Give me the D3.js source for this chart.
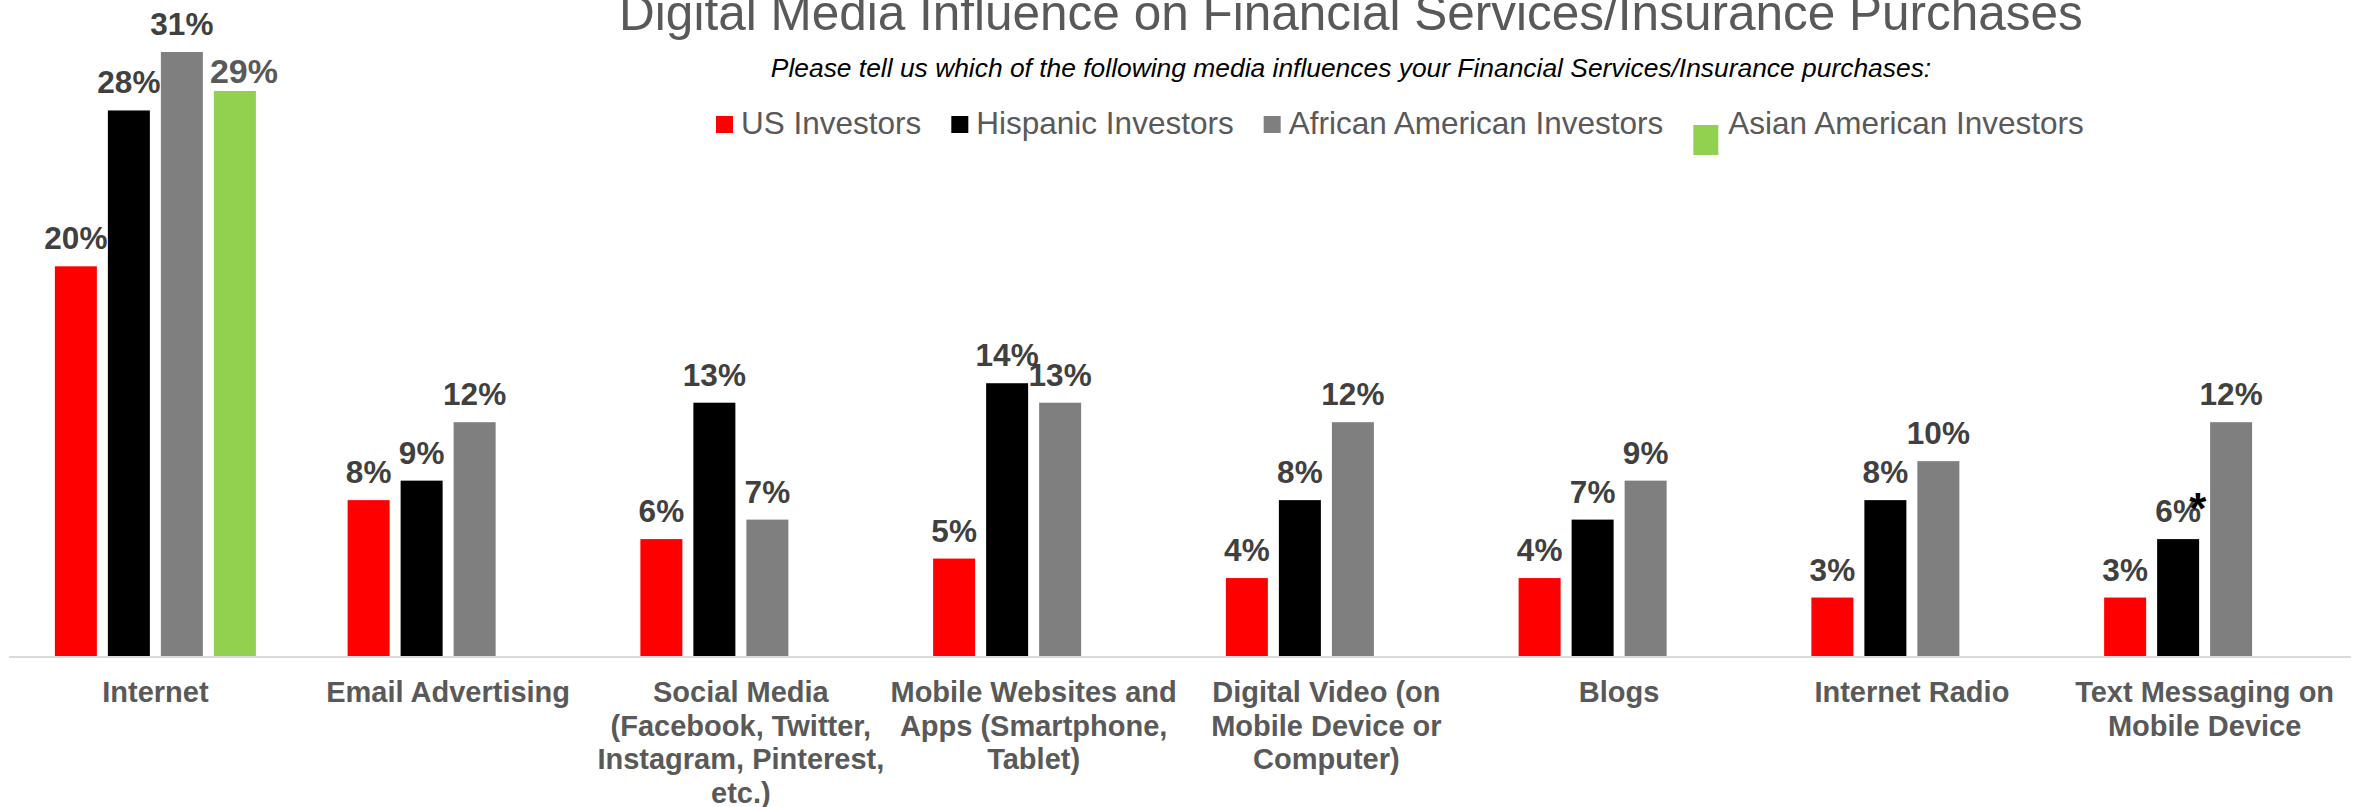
<!DOCTYPE html>
<html>
<head>
<meta charset="utf-8">
<script src="https://cdn.jsdelivr.net/npm/d3@7"></script>
<style>
  html, body { margin: 0; padding: 0; background: #ffffff; }
  svg { display: block; font-family: "Liberation Sans", Arial, sans-serif; }
</style>
</head>
<body>
<svg id="chart" width="2361" height="807"></svg>
<script>
// Media categories (line breaks as they wrap under the axis)
const categories = [
  "Internet",
  "Email Advertising",
  "Social Media\n(Facebook, Twitter,\nInstagram, Pinterest,\netc.)",
  "Mobile Websites and\nApps (Smartphone,\nTablet)",
  "Digital Video (on\nMobile Device or\nComputer)",
  "Blogs",
  "Internet Radio",
  "Text Messaging on\nMobile Device"
];

const seriesNames = ["US Investors", "Hispanic Investors", "African American Investors", "Asian American Investors"];
const seriesColors = ["#ff0000", "#000000", "#7f7f7f", "#92d050"];

// Share of respondents influenced (%) — Asian American only asked about Internet
const usInvestors       = [20, 8, 6, 5, 4, 4, 3, 3];
const hispanicInvestors = [28, 9, 13, 14, 8, 7, 8, 6];
const africanAmerican   = [31, 12, 7, 13, 12, 9, 10, 12];
const asianAmerican     = [29, null, null, null, null, null, null, null];

const seriesValues = [usInvestors, hispanicInvestors, africanAmerican, asianAmerican];

const titleText = "Digital Media Influence on Financial Services/Insurance Purchases";
const subtitleText = "Please tell us which of the following media influences your Financial Services/Insurance purchases:";

const svg = d3.select("#chart");

// Scales
const baseY = 656;
const y = d3.scaleLinear().domain([0, 31]).range([baseY, 52]);
const x0 = d3.scaleBand().domain(categories).range([9, 2351]).paddingInner(0).paddingOuter(0);
const innerP = 11 / 53;
const x1 = d3.scaleBand().domain(seriesNames)
  .range([x0.bandwidth() / 2 - 106, x0.bandwidth() / 2 + 106])
  .paddingInner(innerP).paddingOuter(innerP / 2);

// Title and subtitle
svg.append("text")
  .attr("x", 1351).attr("y", 30)
  .attr("text-anchor", "middle")
  .attr("fill", "#595959")
  .style("font-size", "49.5px")
  .text(titleText);

svg.append("text")
  .attr("x", 1351).attr("y", 77)
  .attr("text-anchor", "middle")
  .attr("fill", "#000000")
  .style("font-size", "26.4px")
  .style("font-style", "italic")
  .text(subtitleText);

// Legend
const legend = svg.append("g");
let lx = 716;
seriesNames.forEach((name, i) => {
  const isLast = i === seriesNames.length - 1;
  const sw = isLast ? 25 : 17, sh = isLast ? 30 : 17;
  const sy = isLast ? 125 : 116;
  legend.append("rect")
    .attr("x", lx).attr("y", sy)
    .attr("width", sw).attr("height", sh)
    .attr("fill", seriesColors[i]);
  const t = legend.append("text")
    .attr("x", lx + sw + (isLast ? 10 : 8)).attr("y", 134)
    .attr("fill", "#595959")
    .style("font-size", "31.5px")
    .text(name);
  lx = lx + sw + (isLast ? 10 : 8) + t.node().getComputedTextLength() + 30;
});

// Bars
const groups = svg.append("g").selectAll("g")
  .data(categories)
  .join("g")
  .attr("transform", d => `translate(${x0(d)},0)`);

seriesNames.forEach((name, si) => {
  groups.filter((d, ci) => seriesValues[si][ci] != null)
    .append("rect")
    .attr("x", x1(name))
    .attr("width", x1.bandwidth())
    .attr("y", d => y(seriesValues[si][categories.indexOf(d)]))
    .attr("height", d => baseY - y(seriesValues[si][categories.indexOf(d)]))
    .attr("fill", seriesColors[si]);
});

// Axis baseline
svg.append("line")
  .attr("x1", 9).attr("x2", 2351)
  .attr("y1", baseY + 1).attr("y2", baseY + 1)
  .attr("stroke", "#d9d9d9")
  .attr("stroke-width", 2);

// Value labels
seriesNames.forEach((name, si) => {
  categories.forEach((cat, ci) => {
    const v = seriesValues[si][ci];
    if (v == null) return;
    const cx = x0(cat) + x1(name) + x1.bandwidth() / 2;
    const isAsian = si === 3;
    const t = svg.append("text")
      .attr("x", isAsian ? x0(cat) + x1(name) - 4 : cx)
      .attr("y", isAsian ? y(v) - 8 : y(v) - 17)
      .attr("text-anchor", isAsian ? "start" : "middle")
      .attr("fill", isAsian ? "#595959" : "#404040")
      .style("font-size", isAsian ? "34px" : "31.5px")
      .style("font-weight", "bold")
      .text(v + "%");
    // footnote marker on Hispanic text-messaging figure
    if (si === 1 && ci === categories.length - 1) {
      svg.append("text")
        .attr("x", cx + 11).attr("y", y(v) - 15)
        .attr("fill", "#000000")
        .style("font-size", "44px")
        .style("font-weight", "bold")
        .text("*");
    }
  });
});

// Category labels
const xAxis = svg.append("g");
categories.forEach(cat => {
  const lines = cat.split("\n");
  const t = xAxis.append("text")
    .attr("text-anchor", "middle")
    .attr("fill", "#595959")
    .style("font-size", "29px")
    .style("font-weight", "bold");
  lines.forEach((ln, li) => {
    t.append("tspan")
      .attr("x", x0(cat) + x0.bandwidth() / 2)
      .attr("y", 702 + li * 33.5)
      .text(ln);
  });
});
</script>
</body>
</html>
